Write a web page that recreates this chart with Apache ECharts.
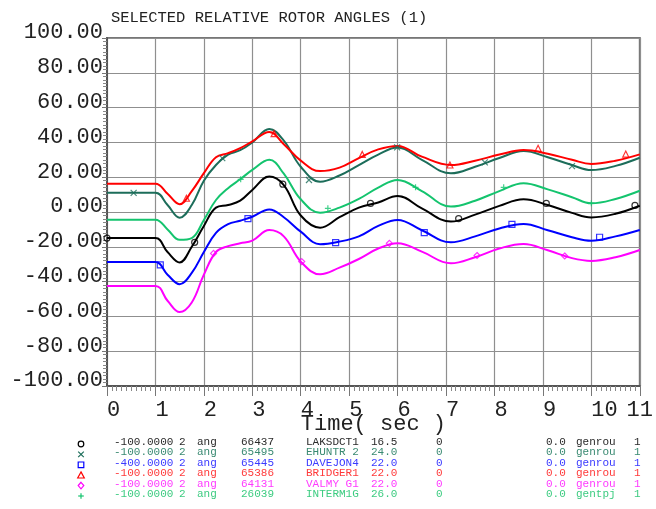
<!DOCTYPE html>
<html>
<head>
<meta charset="utf-8">
<script src="https://cdn.jsdelivr.net/npm/echarts@6/dist/echarts.min.js"></script>
<style>
  html, body { margin: 0; padding: 0; background: #ffffff; }
  #chart { width: 656px; height: 509px; }
</style>
</head>
<body>
<div id="chart"></div>
<script>
// Simulation time samples (seconds)
const times = [0, 1, 1.25, 1.5, 1.75, 2, 2.25, 2.5, 2.75, 3, 3.35, 3.65, 4, 4.4, 4.8, 5.2, 5.6, 6, 6.5, 7.1, 7.6, 8.1, 8.6, 9.1, 9.6, 10, 10.5, 11];

// Relative rotor angles (deg) per generator
const laksdct1 = [-15, -15, -23, -29, -20, -8, 2.5, 4, 6.5, 12.7, 20.4, 15.5, -2, -9, -3, 2.5, 5.5, 9.2, 2.1, -5.5, -1.5, 3.5, 7.3, 4, -0.5, -3.1, -1, 3.6];
const ehuntr2  = [11, 11, 4, -3.3, 4, 18, 27, 33, 35.5, 40, 47.7, 41, 26, 17.4, 21, 27, 33, 37, 30, 22.2, 26, 31, 35, 31.5, 27, 24.1, 26.5, 31.2];
const davejon4 = [-28.8, -28.8, -36, -41.5, -35, -23, -12, -7, -5, -2.7, 1.5, -3, -11.3, -18.5, -17, -14, -8, -4.6, -10.5, -17.4, -14, -9.5, -6.9, -10.5, -14.5, -16.5, -14, -10.3];
const bridger1 = [16.3, 16.3, 10.5, 4.5, 12, 22.3, 31.5, 33.8, 36.7, 40.6, 46, 39, 29.5, 23.5, 25.5, 31, 36, 38, 31.8, 27, 29.5, 33, 35.6, 33.5, 30, 27.6, 29.5, 33.1];
const valmyg1  = [-42.5, -42.5, -51, -57.5, -52, -36, -23, -19.6, -18, -16.5, -10.4, -14, -28.5, -35.8, -32, -27, -21, -18, -22.8, -29.5, -26, -21, -18.4, -22, -26.5, -28.1, -26, -21.8];
const interm1g = [-4.4, -4.4, -10, -16, -15, -4.6, 6.9, 13.7, 18.8, 24.2, 30, 22, 7.3, -0.4, 2.5, 7.5, 14, 18.4, 12, 3.1, 6.5, 12, 16.5, 13, 8.5, 5, 7.5, 12.2];

// Identification markers placed along each trace [time, angle]
const laksMarks = [[0, -15], [1.81, -17.4], [3.63, 16], [5.44, 4.9], [7.26, -3.8], [9.07, 4.9], [10.9, 3.8]];
const ehunMarks = [[0.55, 11], [2.38, 31], [4.17, 18.4], [5.99, 37.1], [7.8, 28.5], [9.6, 26.4]];
const daveMarks = [[1.1, -30.4], [2.91, -3.8], [4.72, -17.6], [6.55, -11.9], [8.36, -7.1], [10.17, -14.5]];
const bridMarks = [[1.64, 7.9], [3.45, 45], [5.27, 33.1], [7.08, 27], [8.9, 36.6], [10.71, 33.3]];
const valmMarks = [[2.2, -23.8], [4.02, -28.5], [5.83, -18], [7.64, -25], [9.45, -25.3]];
const inteMarks = [[2.76, 18.8], [4.56, 2.1], [6.37, 14.2], [8.19, 14.2], [10.0, 5]];

// Axis ticks
const xTicks = [0, 1, 2, 3, 4, 5, 6, 7, 8, 9, 10, 11];
const yTicks = [-100, -80, -60, -40, -20, 0, 20, 40, 60, 80, 100];

// Channel table shown under the plot
const rowScale   = ['-100.0000', '-100.0000', '-400.0000', '-100.0000', '-100.0000', '-100.0000'];
const rowBusNum  = ['66437', '65495', '65445', '65386', '64131', '26039'];
const rowBusName = ['LAKSDCT1', 'EHUNTR 2', 'DAVEJON4', 'BRIDGER1', 'VALMY G1', 'INTERM1G'];
const rowKv      = ['16.5', '24.0', '22.0', '22.0', '22.0', '26.0'];
const rowModel   = ['genrou', 'genrou', 'genrou', 'genrou', 'genrou', 'gentpj'];

const FONT = '"Liberation Mono", "DejaVu Sans Mono", monospace';

const traces = [
  { name: 'LAKSDCT1', values: laksdct1, marks: laksMarks, color: '#000000', text: '#2a2a2a', symbol: 'circle' },
  { name: 'EHUNTR 2', values: ehuntr2,  marks: ehunMarks, color: '#1c6d5a', text: '#3a8a72', symbol: 'cross' },
  { name: 'DAVEJON4', values: davejon4, marks: daveMarks, color: '#0000ff', text: '#3a3aff', symbol: 'square' },
  { name: 'BRIDGER1', values: bridger1, marks: bridMarks, color: '#ff0000', text: '#ff3a3a', symbol: 'triangle' },
  { name: 'VALMY G1', values: valmyg1,  marks: valmMarks, color: '#ff00ff', text: '#ff3aff', symbol: 'diamond' },
  { name: 'INTERM1G', values: interm1g, marks: inteMarks, color: '#14c46e', text: '#3ccc80', symbol: 'plus' }
];

const symbolShape = {
  circle: 'circle',
  cross: 'path://M0,0L10,10M10,0L0,10',
  square: 'rect',
  triangle: 'triangle',
  diamond: 'diamond',
  plus: 'path://M5,0L5,10M0,5L10,5'
};

const series = [];
traces.forEach(function (tr) {
  series.push({
    type: 'line',
    name: tr.name,
    data: times.map(function (t, i) { return [t, tr.values[i]]; }),
    smooth: 0.4,
    showSymbol: false,
    lineStyle: { color: tr.color, width: 2 },
    z: 3,
    animation: false
  });
  series.push({
    type: 'scatter',
    name: tr.name + ' marks',
    data: tr.marks,
    symbol: symbolShape[tr.symbol],
    symbolSize: 6,
    itemStyle: { color: 'rgba(0,0,0,0)', borderColor: tr.color, borderWidth: 1.2 },
    z: 4,
    animation: false
  });
});

// Table rows: symbol + text columns
const graphics = [];
const rowY0 = 442, rowStep = 10.4;
const cols = [
  { x: 114, get: function (i) { return rowScale[i]; } },
  { x: 179, get: function () { return '2'; } },
  { x: 197, get: function () { return 'ang'; } },
  { x: 241, get: function (i) { return rowBusNum[i]; } },
  { x: 306, get: function (i) { return rowBusName[i]; } },
  { x: 371, get: function (i) { return rowKv[i]; } },
  { x: 436, get: function () { return '0'; } },
  { x: 546, get: function () { return '0.0'; } },
  { x: 576, get: function (i) { return rowModel[i]; } },
  { x: 634, get: function () { return '1'; } }
];

function legendSymbol(kind, cx, cy, color) {
  const s = { stroke: color, fill: 'none', lineWidth: 1.2 };
  const r = 2.8;
  if (kind === 'circle') return { type: 'circle', shape: { cx: cx, cy: cy, r: r }, style: s };
  if (kind === 'square') return { type: 'rect', shape: { x: cx - r, y: cy - r, width: 2 * r, height: 2 * r }, style: s };
  if (kind === 'triangle') return { type: 'polygon', shape: { points: [[cx, cy - r - 0.5], [cx + r + 0.5, cy + r], [cx - r - 0.5, cy + r]] }, style: s };
  if (kind === 'diamond') return { type: 'polygon', shape: { points: [[cx, cy - r - 0.5], [cx + r, cy], [cx, cy + r + 0.5], [cx - r, cy]] }, style: s };
  if (kind === 'cross') return { type: 'group', children: [
    { type: 'line', shape: { x1: cx - r, y1: cy - r, x2: cx + r, y2: cy + r }, style: s },
    { type: 'line', shape: { x1: cx + r, y1: cy - r, x2: cx - r, y2: cy + r }, style: s }
  ] };
  return { type: 'group', children: [
    { type: 'line', shape: { x1: cx, y1: cy - r, x2: cx, y2: cy + r }, style: s },
    { type: 'line', shape: { x1: cx - r, y1: cy, x2: cx + r, y2: cy }, style: s }
  ] };
}

traces.forEach(function (tr, i) {
  const y = rowY0 + i * rowStep;
  graphics.push(legendSymbol(tr.symbol, 81, y + 2, tr.color));
  cols.forEach(function (c) {
    graphics.push({
      type: 'text',
      x: c.x, y: y,
      style: { text: c.get(i), fill: tr.text, font: '11px ' + FONT, textVerticalAlign: 'middle' },
      silent: true
    });
  });
});

const chart = echarts.init(document.getElementById('chart'), null, { renderer: 'canvas' });
chart.setOption({
  backgroundColor: '#ffffff',
  animation: false,
  title: {
    text: 'SELECTED RELATIVE ROTOR ANGLES (1)',
    left: 106, top: 5,
    textStyle: { fontFamily: FONT, fontSize: 15.5, fontWeight: 'normal', color: '#222222' }
  },
  grid: {
    left: 107, right: 15, top: 38, bottom: 123,
    show: true, borderColor: '#777777', borderWidth: 2, backgroundColor: '#ffffff'
  },
  xAxis: {
    type: 'value', min: 0, max: 11, interval: 1,
    name: 'Time( sec )', nameLocation: 'middle', nameGap: 27, nameMoveOverlap: false,
    nameTextStyle: { fontFamily: FONT, fontSize: 22, color: '#222222' },
    axisLine: { show: true, onZero: false, lineStyle: { color: '#555555', width: 2 } },
    axisTick: { show: true, inside: false, length: 10, lineStyle: { color: '#777777', width: 1 } },
    minorTick: { show: true, splitNumber: 10, length: 5, lineStyle: { color: '#888888', width: 1 } },
    splitLine: { show: true, lineStyle: { color: '#8f8f8f', width: 1.2 } },
    axisLabel: {
      fontFamily: FONT, fontSize: 22, color: '#222222', margin: 13, lineHeight: 22,
      align: 'left', alignMaxLabel: 'center',
      formatter: function (v) { return xTicks.indexOf(v) >= 0 ? String(v) : ''; }
    }
  },
  yAxis: {
    type: 'value', min: -100, max: 100, interval: 20,
    axisLine: { show: true, onZero: false, lineStyle: { color: '#555555', width: 2 } },
    axisTick: { show: true, inside: false, length: 5, lineStyle: { color: '#777777', width: 1 } },
    minorTick: { show: true, splitNumber: 10, length: 4, lineStyle: { color: '#888888', width: 1 } },
    splitLine: { show: true, lineStyle: { color: '#8f8f8f', width: 1.2 } },
    axisLabel: {
      fontFamily: FONT, fontSize: 22, color: '#222222', margin: 4,
      verticalAlign: 'bottom', lineHeight: 11,
      formatter: function (v) { return yTicks.indexOf(v) >= 0 ? v.toFixed(2) : ''; }
    }
  },
  series: series,
  graphic: graphics
});
</script>
</body>
</html>
